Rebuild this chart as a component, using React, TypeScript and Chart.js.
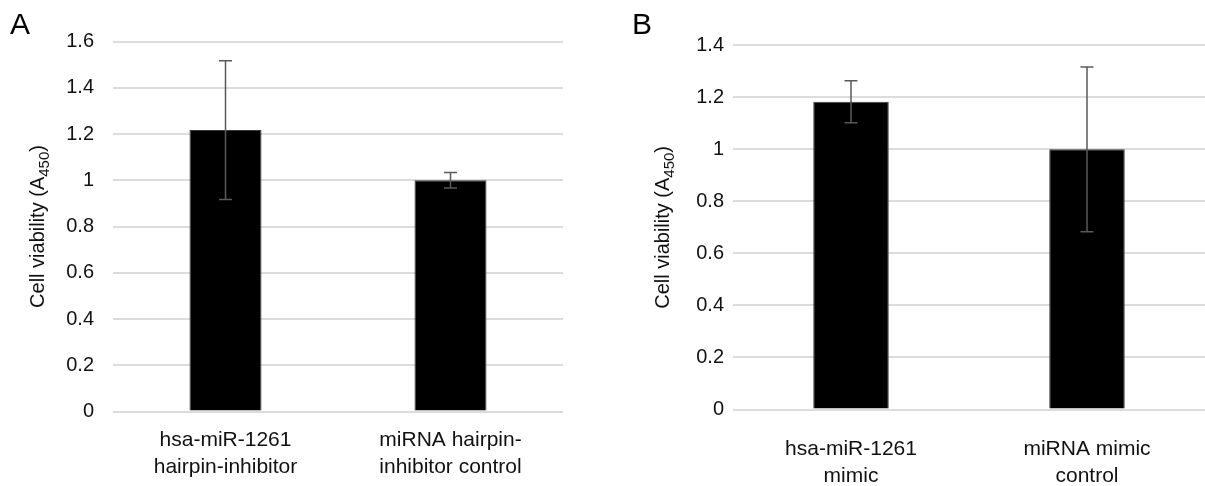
import React, { useEffect, useRef } from "react";
import { Chart, registerables } from "chart.js";

Chart.register(...registerables);

const FONT = '"Liberation Sans", Arial, Helvetica, sans-serif';

// Panel A
const categoriesA = [["hsa-miR-1261", "hairpin-inhibitor"], ["miRNA hairpin-", "inhibitor control"]];
const valuesA = [1.217, 1.0];
const errorsA = [0.3, 0.034];
const yMaxA = 1.6;
const yStepA = 0.2;

// Panel B
const categoriesB = [["hsa-miR-1261", "mimic"], ["miRNA mimic", "control"]];
const valuesB = [1.183, 1.0];
const errorsB = [0.081, 0.317];
const yMaxB = 1.4;
const yStepB = 0.2;

const axisTitleMain = "Cell viability (A";
const axisTitleSub = "450";
const axisTitleEnd = ")";

const errorBarPlugin = {
  id: "errorBars",
  afterDatasetsDraw(chart: any, _args: any, opts: any) {
    const { ctx } = chart;
    const yScale = chart.scales.y;
    chart.data.datasets.forEach((ds: any, di: number) => {
      const meta = chart.getDatasetMeta(di);
      const errs: number[] = ds.errors || [];
      meta.data.forEach((el: any, i: number) => {
        const v = ds.data[i];
        const e = errs[i] || 0;
        const yTop = yScale.getPixelForValue(v + e);
        const yBot = yScale.getPixelForValue(v - e);
        const x = el.x;
        const cap = opts.cap || 6.5;
        ctx.save();
        ctx.strokeStyle = opts.color || "#595959";
        ctx.lineWidth = opts.width || 1.5;
        ctx.beginPath();
        ctx.moveTo(x, yTop);
        ctx.lineTo(x, yBot);
        ctx.moveTo(x - cap, yTop);
        ctx.lineTo(x + cap, yTop);
        ctx.moveTo(x - cap, yBot);
        ctx.lineTo(x + cap, yBot);
        ctx.stroke();
        ctx.restore();
      });
    });
  },
};

const decorPlugin = {
  id: "decor",
  afterDraw(chart: any, _args: any, opts: any) {
    const { ctx, chartArea } = chart;
    // panel letter
    ctx.save();
    ctx.fillStyle = "#000";
    ctx.font = `30px ${FONT}`;
    ctx.textBaseline = "alphabetic";
    ctx.textAlign = "left";
    ctx.fillText(opts.letter, opts.letterX, opts.letterY);
    ctx.restore();

    // rotated y-axis title with subscript
    const cy = (chartArea.top + chartArea.bottom) / 2;
    const mainFont = `20px ${FONT}`;
    const subFont = `15px ${FONT}`;
    ctx.save();
    ctx.fillStyle = "#111";
    ctx.textBaseline = "alphabetic";
    ctx.textAlign = "left";
    ctx.font = mainFont;
    const w1 = ctx.measureText(axisTitleMain).width;
    const w3 = ctx.measureText(axisTitleEnd).width;
    ctx.font = subFont;
    const w2 = ctx.measureText(axisTitleSub).width;
    const total = w1 + w2 + w3;
    ctx.translate(opts.titleX, cy);
    ctx.rotate(-Math.PI / 2);
    let x = -total / 2;
    ctx.font = mainFont;
    ctx.fillText(axisTitleMain, x, 0);
    x += w1;
    ctx.font = subFont;
    ctx.fillText(axisTitleSub, x, 5);
    x += w2;
    ctx.font = mainFont;
    ctx.fillText(axisTitleEnd, x, 0);
    ctx.restore();
  },
};

type PanelProps = {
  width: number;
  height: number;
  categories: string[][];
  values: number[];
  errors: number[];
  yMax: number;
  yStep: number;
  yAxisWidth: number;
  yTickPad: number;
  xAxisHeight: number;
  xTickPad: number;
  padTop: number;
  padRight: number;
  letter: string;
  letterX: number;
  letterY: number;
  titleX: number;
};

function Panel(p: PanelProps) {
  const ref = useRef<HTMLCanvasElement | null>(null);
  useEffect(() => {
    if (!ref.current) return;
    const chart = new Chart(ref.current, {
      type: "bar",
      data: {
        labels: p.categories,
        datasets: [
          {
            data: p.values,
            errors: p.errors,
            backgroundColor: "#000000",
            borderColor: "#3a3a3a",
            borderWidth: 1,
            barPercentage: 0.32,
            categoryPercentage: 1,
          } as any,
        ],
      },
      options: {
        animation: false,
        responsive: false,
        maintainAspectRatio: false,
        layout: { padding: { top: p.padTop, right: p.padRight, left: 0, bottom: 0 } },
        plugins: {
          legend: { display: false },
          tooltip: { enabled: false },
          title: { display: false },
          errorBars: { color: "#5a5a5a", width: 1.5, cap: 6.5 },
          decor: { letter: p.letter, letterX: p.letterX, letterY: p.letterY, titleX: p.titleX },
        } as any,
        scales: {
          x: {
            grid: { display: false },
            border: { display: false },
            ticks: {
              color: "#111",
              font: { family: FONT, size: 21, lineHeight: "27px" },
              padding: p.xTickPad,
              maxRotation: 0,
              minRotation: 0,
              autoSkip: false,
            },
            afterFit: (s: any) => {
              s.height = p.xAxisHeight;
            },
          },
          y: {
            min: 0,
            max: p.yMax,
            grid: { color: "#dcdcdc", lineWidth: 2, drawTicks: false },
            border: { display: false },
            ticks: {
              stepSize: p.yStep,
              color: "#111",
              font: { family: FONT, size: 20 },
              padding: p.yTickPad,
              callback: (v: any) => String(Math.round(Number(v) * 10) / 10),
            },
            afterFit: (s: any) => {
              s.width = p.yAxisWidth;
            },
          },
        },
      },
      plugins: [errorBarPlugin, decorPlugin],
    });
    return () => chart.destroy();
  }, []);
  return <canvas ref={ref} width={p.width} height={p.height} style={{ display: "block" }} />;
}

export default function App() {
  return (
    <div style={{ position: "absolute", left: 0, top: 0, width: 1205, height: 486, background: "#fff", display: "flex" }}>
      <Panel
        width={600}
        height={486}
        categories={categoriesA}
        values={valuesA}
        errors={errorsA}
        yMax={yMaxA}
        yStep={yStepA}
        yAxisWidth={113}
        yTickPad={19}
        xAxisHeight={74.5}
        xTickPad={7}
        padTop={41.5}
        padRight={37}
        letter="A"
        letterX={10}
        letterY={34}
        titleX={43.5}
      />
      <Panel
        width={605}
        height={486}
        categories={categoriesB}
        values={valuesB}
        errors={errorsB}
        yMax={yMaxB}
        yStep={yStepB}
        yAxisWidth={133}
        yTickPad={9}
        xAxisHeight={76.5}
        xTickPad={18}
        padTop={45.3}
        padRight={0}
        letter="B"
        letterX={32}
        letterY={34}
        titleX={69}
      />
    </div>
  );
}
